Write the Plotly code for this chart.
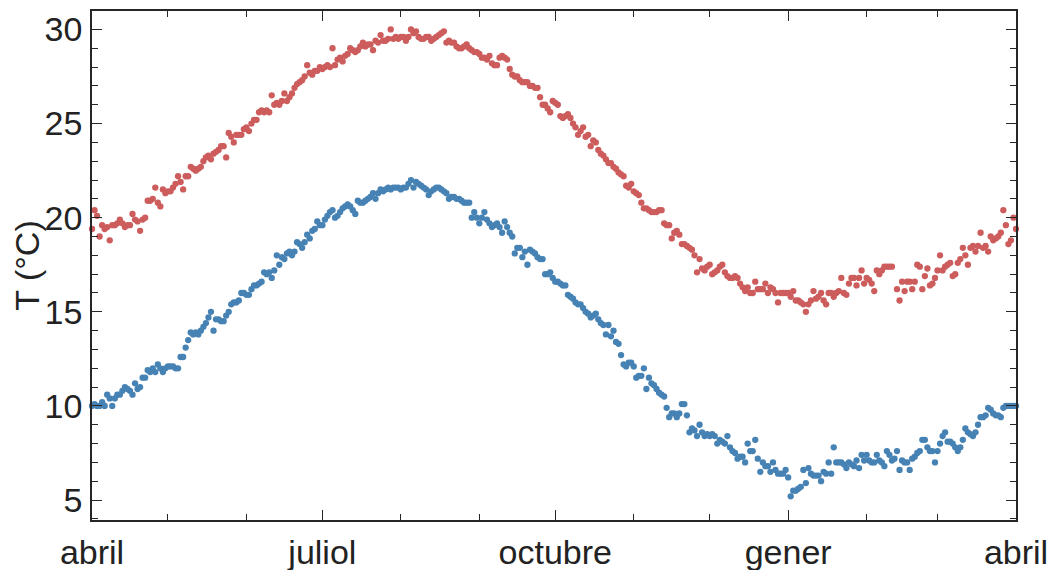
import plotly.graph_objects as go

# Daily temperatures, day 0 = 1 April ... day 365 = 1 April next year
t_max = [
    19.4, 20.4, 20.1, 19.0, 19.6, 19.4, 19.5, 18.8, 19.6, 19.6,
    19.7, 19.9, 19.7, 19.5, 19.6, 19.6, 20.2, 19.9, 19.8, 19.3,
    19.9, 20.0, 20.9, 20.9, 21.0, 21.6, 20.8, 20.6, 21.5, 21.3,
    21.4, 21.4, 21.6, 21.8, 22.2, 21.9, 21.5, 22.2, 22.2, 22.7,
    22.6, 22.5, 22.6, 22.7, 23.0, 23.2, 23.3, 23.1, 23.4, 23.5,
    23.6, 23.8, 23.8, 23.2, 24.5, 24.3, 24.0, 24.4, 24.4, 24.4,
    24.7, 24.8, 24.6, 25.0, 25.2, 25.2, 25.6, 25.7, 25.6, 25.7,
    25.6, 26.5, 26.0, 26.1, 26.0, 26.2, 26.6, 26.2, 26.4, 26.6,
    26.9, 27.1, 27.2, 27.3, 27.5, 28.1, 27.7, 27.6, 27.8, 27.8,
    28.0, 27.9, 28.0, 28.1, 28.0, 29.0, 28.1, 28.4, 28.5, 28.3,
    28.6, 28.7, 29.0, 28.9, 28.8, 28.9, 29.1, 29.3, 29.1, 29.2,
    29.2, 28.9, 29.4, 29.3, 29.7, 29.4, 29.4, 29.5, 30.0, 29.5,
    29.6, 29.5, 29.6, 29.6, 29.4, 29.6, 30.0, 29.8, 29.9, 29.6,
    29.5, 29.5, 29.6, 29.6, 29.4, 29.5, 29.6, 29.7, 29.8, 29.9,
    29.3, 29.4, 29.3, 29.3, 29.1, 29.0, 29.0, 29.1, 29.2, 29.0,
    28.9, 28.8, 28.8, 28.7, 28.5, 28.5, 28.4, 28.6, 28.2, 28.1,
    28.1, 28.5, 28.6, 28.5, 28.4, 27.9, 27.6, 27.5, 27.5, 27.3,
    27.2, 27.2, 27.2, 27.0, 27.0, 26.9, 26.9, 26.4, 26.0, 26.0,
    25.8, 25.6, 26.2, 26.1, 26.0, 25.4, 25.3, 25.4, 25.5, 25.3,
    25.0, 24.8, 24.4, 24.6, 24.8, 24.3, 24.4, 23.8, 24.1, 24.0,
    23.6, 23.4, 23.3, 23.1, 22.9, 22.9, 22.7, 22.6, 22.4, 22.3,
    22.2, 21.7, 21.6, 21.8, 21.4, 21.3, 21.2, 20.8, 20.5, 20.5,
    20.4, 20.3, 20.3, 20.3, 20.4, 20.4, 19.7, 19.6, 19.6, 18.9,
    19.2, 19.3, 19.1, 18.6, 18.6, 18.5, 18.4, 18.3, 18.0, 17.1,
    17.8, 17.3, 17.2, 17.4, 17.5, 17.0, 17.1, 17.2, 17.4, 17.5,
    17.1, 16.9, 16.8, 16.8, 16.9, 16.8, 16.5, 16.3, 16.1, 16.3,
    16.0, 16.0, 16.6, 16.2, 16.2, 16.2, 16.5, 16.0, 16.3, 16.2,
    16.0, 15.5, 16.0, 16.0, 16.0, 16.0, 15.8, 16.1, 15.6, 15.6,
    15.5, 15.4, 15.0, 15.4, 15.6, 16.1, 15.7, 15.8, 16.0, 15.6,
    15.4, 16.0, 16.0, 15.8, 16.0, 16.1, 16.8, 16.0, 15.9, 16.5,
    16.8, 16.8, 16.4, 16.8, 17.2, 16.5, 16.8, 16.7, 16.5, 16.1,
    17.2, 17.0, 17.2, 17.4, 17.4, 17.4, 17.4, None, 16.2, 15.6,
    16.6, 16.1, 16.6, 16.6, 16.2, 16.6, 17.5, 17.4, 16.2, 16.9,
    17.3, 16.4, 16.5, 16.8, 17.2, 18.0, 17.2, 17.4, 17.5, 17.6,
    16.9, 17.0, 17.6, 17.8, 18.4, 18.0, 17.5, 18.4, 18.5, 18.2,
    18.5, 19.2, 18.4, 18.5, 18.2, 19.0, 18.8, 18.9, 19.0, 19.2,
    20.4, 19.6, 18.6, 18.8, 20.0, 19.4,
]

t_min = [
    10.0, 10.1, 10.0, 10.0, 10.2, 10.0, 10.6, 10.4, 10.0, 10.4,
    10.6, 10.6, 10.8, 11.0, 10.9, 10.8, 10.6, 11.2, 10.9, 11.0,
    11.5, 11.5, 11.9, 11.8, 12.0, 11.8, 12.2, 12.0, 11.8, 12.0,
    12.1, 12.1, 12.1, 12.0, 12.0, 12.6, 12.6, 13.1, 13.5, 13.9,
    13.8, 13.9, 13.8, 14.0, 14.2, 14.4, 14.7, 15.0, 14.0, 14.6,
    14.6, 14.5, 14.5, 14.8, 15.0, 15.4, 15.5, 15.5, 15.6, 16.0,
    16.0, 15.9, 15.9, 16.2, 16.4, 16.4, 16.5, 16.6, 17.1, 17.0,
    17.1, 16.8, 17.2, 18.0, 17.5, 17.9, 17.8, 18.1, 18.2, 18.0,
    18.2, 18.7, 18.6, 18.4, 18.7, 19.1, 18.9, 19.3, 19.4, 19.8,
    19.6, 19.6, 19.9, 20.1, 20.3, 20.4, 20.0, 20.1, 20.3, 20.5,
    20.6, 20.7, 20.6, 20.4, 20.2, 20.9, 20.8, 20.8, 20.9, 21.0,
    21.1, 21.3, 21.0, 21.3, 21.5, 21.4, 21.5, 21.6, 21.5, 21.6,
    21.6, 21.6, 21.5, 21.6, 21.6, 21.8, 22.0, 21.6, 21.9, 21.8,
    21.7, 21.6, 21.5, 21.2, 21.4, 21.5, 21.6, 21.6, 21.5, 21.4,
    21.3, 21.0, 21.1, 21.1, 21.0, 21.0, 20.9, 20.8, 20.8, 20.8,
    20.0, 20.3, 20.0, 19.7, 20.0, 20.3, 19.9, 19.7, 19.5, 19.6,
    19.7, 19.5, 19.2, 19.8, 19.5, 19.2, 19.0, 18.1, 18.4, 18.4,
    17.9, 18.2, 17.5, 18.3, 18.2, 18.1, 17.9, 17.8, 17.8, 17.0,
    17.0, 17.1, 16.8, 16.6, 16.6, 16.5, 16.4, 16.4, 15.9, 15.8,
    15.7, 15.5, 15.4, 15.4, 15.2, 15.0, 14.9, 14.7, 14.8, 14.9,
    14.6, 14.4, 14.3, 13.8, 14.3, 13.7, 14.0, 13.4, 13.3, 12.7,
    12.2, 12.1, 12.3, 12.3, 12.1, 11.5, 11.6, 11.6, 12.0, 10.9,
    11.5, 11.2, 11.1, 10.9, 10.7, 10.6, 10.5, 9.9, 9.4, 9.6,
    9.6, 9.4, 9.6, 10.1, 10.1, 9.5, 8.6, 8.8, 8.7, 8.4,
    9.0, 8.6, 8.4, 8.5, 8.4, 8.5, 8.4, 8.0, 8.2, 8.1,
    8.0, 8.4, 7.8, 7.6, 7.5, 7.2, 7.3, 7.3, 7.0, 8.0,
    7.6, 7.6, 8.2, 7.2, 6.5, 7.0, 6.8, 6.8, 6.5, 7.0,
    6.6, 6.4, 6.4, 6.4, 6.6, 6.2, 5.2, 5.5, 5.5, 5.6,
    5.7, 6.6, 5.9, 6.7, 6.4, 6.3, 6.3, 6.3, 6.0, 6.5,
    6.4, 7.0, 6.4, 7.8, 7.0, 7.0, 7.0, 6.9, 6.7, 7.0,
    6.9, 6.8, 7.1, 6.7, 7.4, 7.1, 7.4, 7.1, 7.0, 7.0,
    7.4, 7.1, 7.0, 6.8, 7.6, 7.4, 7.1, 7.2, 7.6, 6.6,
    7.1, 7.0, 7.0, 6.6, 7.2, 7.3, 7.5, 7.6, 8.2, 8.2,
    7.8, 7.6, 7.6, 7.0, 7.6, 8.0, 8.4, 8.6, 8.1, 8.1,
    8.0, 7.8, 7.6, 7.8, 8.2, 8.8, 8.6, 8.5, 8.4, 8.6,
    9.0, 9.4, 9.4, 9.5, 9.9, 9.8, 9.6, 9.5, 9.5, 9.4,
    9.9, 10.0, 10.0, 10.0, 10.0, 10.0,
]

days = list(range(len(t_max)))

# Month starts (days since 1 April)
major_tick_days = [0, 91, 183, 275, 365]
major_tick_labels = ["abril", "juliol", "octubre", "gener", "abril"]
minor_tick_days = [30, 61, 122, 153, 214, 244, 306, 334]
y_ticks = [5, 10, 15, 20, 25, 30]

RED = "#CD5C5C"
BLUE = "#4682B4"
AX = "#262626"

fig = go.Figure()
fig.add_trace(go.Scatter(x=days, y=t_max, mode="markers",
                         marker=dict(color=RED, size=6.3, line=dict(width=0)),
                         cliponaxis=False, name="max"))
fig.add_trace(go.Scatter(x=days, y=t_min, mode="markers",
                         marker=dict(color=BLUE, size=6.3, line=dict(width=0)),
                         cliponaxis=False, name="min"))

# The page body adds an 8 px offset, so the figure is sized to fit the window.
fig.update_layout(
    width=1047, height=562,
    margin=dict(l=84, r=39, t=3, b=50, autoexpand=False),
    paper_bgcolor="white", plot_bgcolor="white",
    showlegend=False,
    font=dict(family="Liberation Sans, Arial, sans-serif", size=34, color="#222222"),
)

fig.update_xaxes(
    range=[0, 365], automargin=False,
    tickmode="array", tickvals=major_tick_days, ticktext=major_tick_labels,
    ticks="inside", ticklen=10, tickwidth=1.4, tickcolor=AX,
    showline=True, linecolor=AX, linewidth=1.8, mirror="ticks",
    showgrid=False, zeroline=False,
    ticklabelstandoff=1,
    minor=dict(tickmode="array", tickvals=minor_tick_days, ticks="inside",
               ticklen=6, tickwidth=1.3, tickcolor=AX, showgrid=False),
)

fig.update_yaxes(
    range=[3.94, 30.98], automargin=False,
    tickmode="array", tickvals=y_ticks,
    ticks="inside", ticklen=10, tickwidth=1.4, tickcolor=AX,
    showline=True, linecolor=AX, linewidth=1.8, mirror="ticks",
    showgrid=False, zeroline=False,
    ticklabelstandoff=1,
    minor=dict(dtick=1, ticks="inside", ticklen=6, tickwidth=1.3,
               tickcolor=AX, showgrid=False),
    title=dict(text="T (°C)", standoff=1, font=dict(size=34)),
)

fig.write_html("out.html")
